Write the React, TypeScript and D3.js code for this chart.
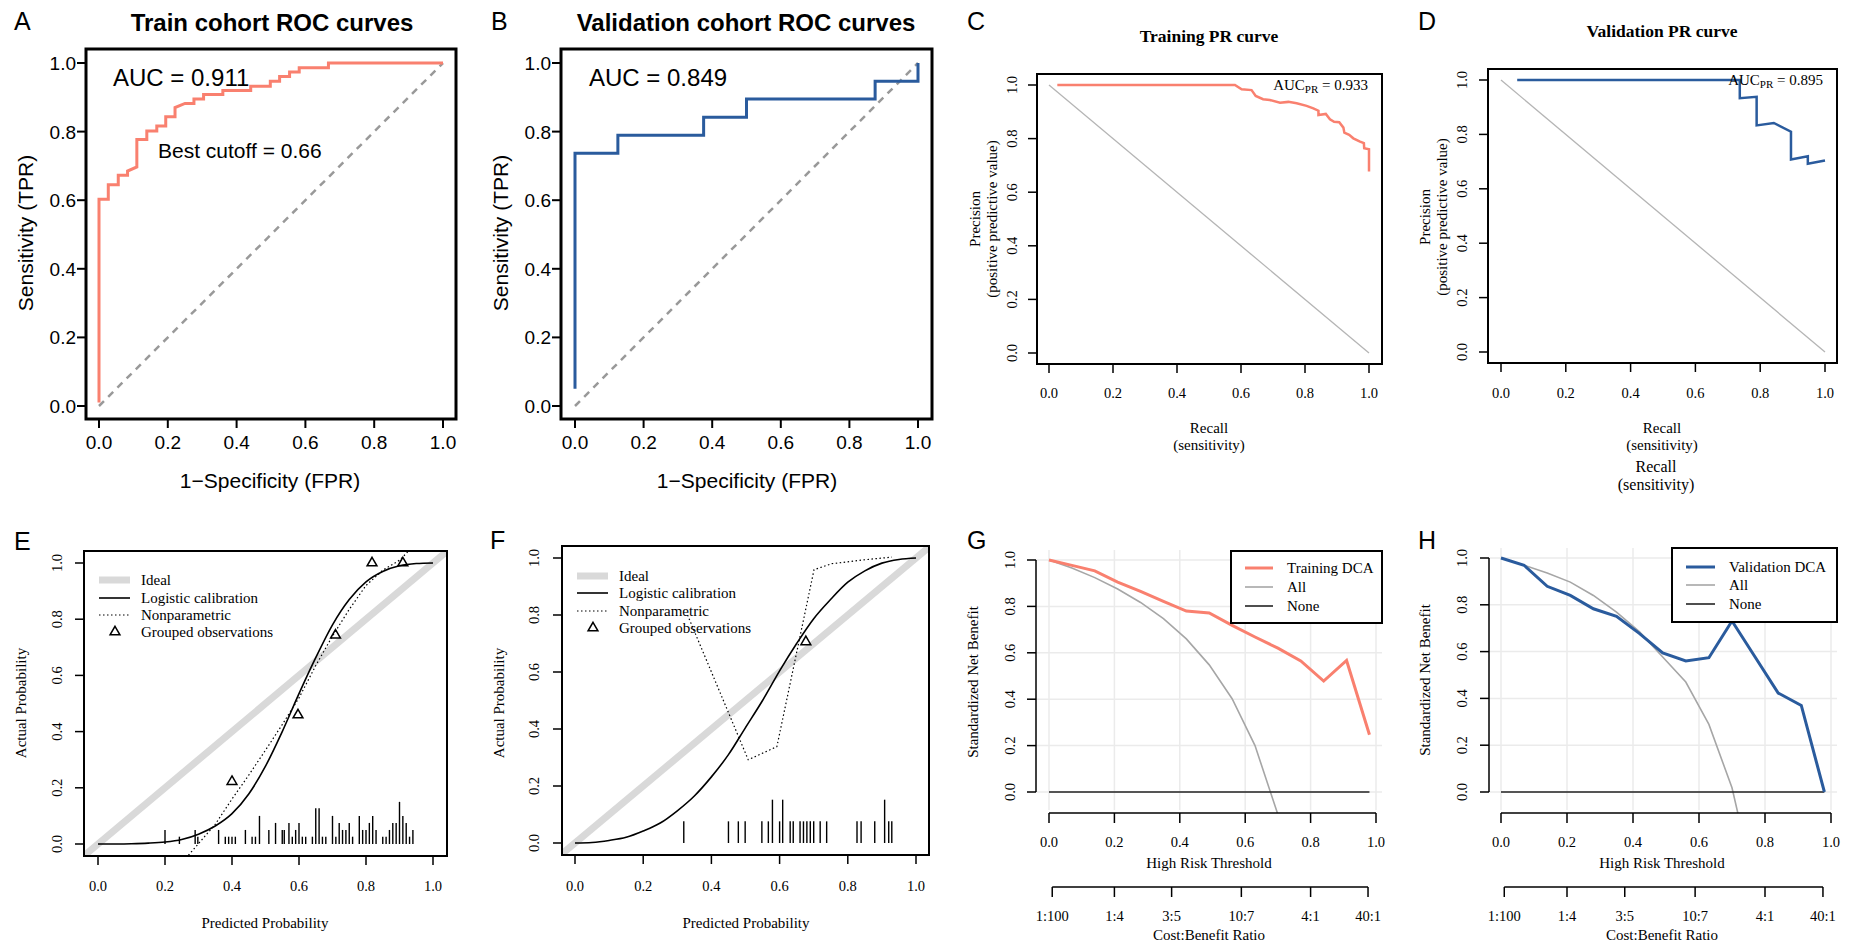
import React from 'react';
import * as d3 from 'd3';

const SANS = '"Liberation Sans", Arial, Helvetica, sans-serif';
const SERIF = '"Liberation Serif", "Times New Roman", Times, serif';
const SALMON = '#f9806f';
const BLUE = '#2a5b9d';

const ticks01 = [0, 0.2, 0.4, 0.6, 0.8, 1.0];
const fmt = d3.format('.1f');

// A: training ROC (step corners)
const trainRocFpr = [0, 0, 0.027, 0.027, 0.056, 0.056, 0.083, 0.083, 0.11, 0.11, 0.139, 0.139, 0.168, 0.168, 0.194, 0.194, 0.221, 0.221, 0.25, 0.276, 0.276, 0.304, 0.304, 0.36, 0.36, 0.441, 0.441, 0.498, 0.498, 0.525, 0.525, 0.554, 0.554, 0.582, 0.582, 0.667, 0.667, 1.0];
const trainRocTpr = [0.01, 0.603, 0.603, 0.645, 0.645, 0.673, 0.673, 0.685, 0.697, 0.777, 0.777, 0.802, 0.802, 0.816, 0.816, 0.843, 0.843, 0.87, 0.882, 0.882, 0.895, 0.895, 0.908, 0.908, 0.92, 0.92, 0.932, 0.932, 0.947, 0.947, 0.961, 0.961, 0.974, 0.974, 0.986, 0.986, 1.0, 1.0];

// B: validation ROC
const validRocFpr = [0, 0, 0.125, 0.125, 0.375, 0.375, 0.5, 0.5, 0.875, 0.875, 1.0, 1.0];
const validRocTpr = [0.05, 0.737, 0.737, 0.789, 0.789, 0.842, 0.842, 0.895, 0.895, 0.947, 0.947, 1.0];

// C: training PR
const trainPrRecall = [0.026, 0.581, 0.602, 0.633, 0.646, 0.669, 0.69, 0.722, 0.748, 0.774, 0.805, 0.826, 0.842, 0.842, 0.865, 0.878, 0.891, 0.907, 0.92, 0.923, 0.938, 0.951, 0.972, 0.984, 0.985, 1.0, 1.0];
const trainPrPrecision = [1.0, 1.0, 0.984, 0.981, 0.959, 0.947, 0.944, 0.934, 0.937, 0.932, 0.922, 0.913, 0.904, 0.888, 0.892, 0.872, 0.863, 0.861, 0.841, 0.822, 0.814, 0.801, 0.789, 0.783, 0.764, 0.76, 0.677];

// D: validation PR
const validPrRecall = [0.05, 0.737, 0.737, 0.789, 0.789, 0.842, 0.895, 0.895, 0.947, 0.947, 1.0];
const validPrPrecision = [1.0, 1.0, 0.933, 0.938, 0.833, 0.842, 0.81, 0.708, 0.72, 0.692, 0.704];

// E/F: calibration
const calGrid = [0, 0.05, 0.1, 0.15, 0.2, 0.25, 0.3, 0.35, 0.4, 0.45, 0.5, 0.55, 0.6, 0.65, 0.7, 0.75, 0.8, 0.85, 0.9, 0.95, 1.0];
const trainLogistic = [0, 0.0002, 0.001, 0.003, 0.007, 0.016, 0.035, 0.064, 0.108, 0.178, 0.277, 0.4, 0.535, 0.663, 0.78, 0.87, 0.933, 0.97, 0.99, 0.998, 1.0];
const trainNpX = [0.27, 0.35, 0.4, 0.45, 0.5, 0.55, 0.6, 0.65, 0.7, 0.75, 0.8, 0.85, 0.9, 0.925];
const trainNpY = [-0.04, 0.07, 0.16, 0.245, 0.334, 0.425, 0.52, 0.635, 0.74, 0.835, 0.92, 0.974, 1.01, 1.04];
const trainGroupX = [0.4, 0.597, 0.709, 0.818, 0.91];
const trainGroupY = [0.222, 0.459, 0.743, 1.0, 1.0];
const trainRugX = [0.2, 0.243, 0.29, 0.298, 0.36, 0.38, 0.39, 0.4, 0.41, 0.44, 0.46, 0.47, 0.482, 0.51, 0.53, 0.55, 0.556, 0.57, 0.58, 0.59, 0.6, 0.61, 0.62, 0.64, 0.65, 0.66, 0.67, 0.68, 0.7, 0.71, 0.72, 0.73, 0.74, 0.75, 0.76, 0.78, 0.79, 0.8, 0.81, 0.82, 0.83, 0.85, 0.86, 0.87, 0.88, 0.89, 0.9, 0.91, 0.92, 0.93, 0.94];
const trainRugH = [0.05, 0.026, 0.05, 0.026, 0.05, 0.026, 0.026, 0.026, 0.026, 0.05, 0.026, 0.026, 0.1, 0.05, 0.075, 0.05, 0.05, 0.075, 0.026, 0.05, 0.075, 0.026, 0.026, 0.026, 0.127, 0.127, 0.026, 0.026, 0.1, 0.026, 0.075, 0.05, 0.05, 0.075, 0.026, 0.1, 0.05, 0.05, 0.075, 0.1, 0.05, 0.026, 0.026, 0.05, 0.075, 0.075, 0.15, 0.1, 0.075, 0.026, 0.05];

const validLogistic = [0, 0.002, 0.009, 0.02, 0.042, 0.07, 0.113, 0.165, 0.232, 0.31, 0.405, 0.5, 0.604, 0.7, 0.787, 0.855, 0.915, 0.955, 0.982, 0.995, 1.0];
const validNpX = [0.33, 0.508, 0.592, 0.701, 0.753, 0.851, 0.929];
const validNpY = [0.8, 0.292, 0.338, 0.959, 0.98, 0.994, 1.003];
const validGroupX = [0.677];
const validGroupY = [0.706];
const validRugX = [0.319, 0.45, 0.479, 0.499, 0.548, 0.567, 0.579, 0.6, 0.609, 0.631, 0.64, 0.66, 0.67, 0.68, 0.69, 0.7, 0.719, 0.738, 0.827, 0.839, 0.879, 0.908, 0.92, 0.929];
const validRugH = [0.076, 0.076, 0.076, 0.076, 0.076, 0.076, 0.152, 0.076, 0.152, 0.076, 0.076, 0.076, 0.076, 0.076, 0.076, 0.076, 0.076, 0.076, 0.076, 0.076, 0.076, 0.152, 0.076, 0.076];

// G/H: decision curves
const dcaThresholds = [0, 0.07, 0.14, 0.21, 0.28, 0.35, 0.42, 0.49, 0.56, 0.63, 0.7, 0.77, 0.84, 0.91, 0.98];
const trainDca = [1.0, 0.977, 0.953, 0.905, 0.865, 0.822, 0.78, 0.772, 0.718, 0.668, 0.62, 0.565, 0.478, 0.567, 0.247];
const trainAll = [1.0, 0.965, 0.924, 0.875, 0.817, 0.747, 0.66, 0.548, 0.402, 0.2, -0.097];
const validDca = [1.0, 0.969, 0.879, 0.84, 0.783, 0.751, 0.677, 0.594, 0.56, 0.574, 0.731, 0.577, 0.423, 0.37, 0.0];
const validAll = [1.0, 0.969, 0.936, 0.897, 0.84, 0.769, 0.684, 0.577, 0.47, 0.289, 0.018, -0.41];
const ratioLabels = ['1:100', '1:4', '3:5', '10:7', '4:1', '40:1'];

const pts = (xs: number[], ys: number[]): [number, number][] => xs.map((v, i) => [v, ys[i]]);

function RocPanel({ cfg, fpr, tpr, color, auc, note }: any) {
  const x = d3.scaleLinear().domain([0, 1]).range(cfg.xr);
  const y = d3.scaleLinear().domain([0, 1]).range(cfg.yr);
  const line = d3.line<[number, number]>().x(d => x(d[0])).y(d => y(d[1]));
  const b = cfg.box;
  return (
    <g fontFamily={SANS} fill="#000">
      <text x={cfg.letterX} y={30} fontSize={25}>{cfg.letter}</text>
      <text x={cfg.titleX} y={31} fontSize={24} fontWeight="bold" textAnchor="middle">{cfg.title}</text>
      <line x1={x(0)} y1={y(0)} x2={x(1)} y2={y(1)} stroke="#999" strokeWidth={2.5} strokeDasharray="7,6" />
      <path d={line(pts(fpr, tpr)) || ''} fill="none" stroke={color} strokeWidth={3} />
      <rect x={b.l} y={b.t} width={b.r - b.l} height={b.b - b.t} fill="none" stroke="#000" strokeWidth={3} />
      {ticks01.map(t => (
        <g key={'x' + t}>
          <line x1={x(t)} x2={x(t)} y1={b.b} y2={b.b + 9} stroke="#000" strokeWidth={2} />
          <text x={x(t)} y={b.b + 30} fontSize={19} textAnchor="middle">{fmt(t)}</text>
          <line x1={b.l} x2={b.l - 9} y1={y(t)} y2={y(t)} stroke="#000" strokeWidth={2} />
          <text x={b.l - 10} y={y(t) + 7} fontSize={19} textAnchor="end">{fmt(t)}</text>
        </g>
      ))}
      <text x={cfg.aucX} y={86} fontSize={24}>{auc}</text>
      {note && <text x={note.x} y={note.y} fontSize={21}>{note.text}</text>}
      <text x={cfg.xlabelX} y={488} fontSize={21} textAnchor="middle">1−Specificity (FPR)</text>
      <text transform={`translate(${cfg.ylabelX},233) rotate(-90)`} fontSize={21} textAnchor="middle">Sensitivity (TPR)</text>
    </g>
  );
}

function PrPanel({ cfg, recall, precision, color, auc, extraLabel }: any) {
  const x = d3.scaleLinear().domain([0, 1]).range(cfg.xr);
  const y = d3.scaleLinear().domain([0, 1]).range(cfg.yr);
  const line = d3.line<[number, number]>().x(d => x(d[0])).y(d => y(d[1]));
  const b = cfg.box;
  return (
    <g fontFamily={SERIF} fill="#000">
      <text x={cfg.letterX} y={30} fontSize={25} fontFamily={SANS}>{cfg.letter}</text>
      <text x={cfg.titleX} y={cfg.titleY} fontSize={17.5} fontWeight="bold" textAnchor="middle">{cfg.title}</text>
      <line x1={x(0)} y1={y(1)} x2={x(1)} y2={y(0)} stroke="#b5b5b5" strokeWidth={1.3} />
      <path d={line(pts(recall, precision)) || ''} fill="none" stroke={color} strokeWidth={2.5} />
      <rect x={b.l} y={b.t} width={b.r - b.l} height={b.b - b.t} fill="none" stroke="#000" strokeWidth={2} />
      {ticks01.map(t => (
        <g key={'t' + t}>
          <line x1={x(t)} x2={x(t)} y1={b.b} y2={b.b + 9} stroke="#000" strokeWidth={1.5} />
          <text x={x(t)} y={398} fontSize={14.5} textAnchor="middle">{fmt(t)}</text>
          <line x1={b.l} x2={b.l - 9} y1={y(t)} y2={y(t)} stroke="#000" strokeWidth={1.5} />
          <text transform={`translate(${cfg.ytickX},${y(t)}) rotate(-90)`} fontSize={14.5} textAnchor="middle">{fmt(t)}</text>
        </g>
      ))}
      <text x={cfg.aucRight} y={cfg.aucY} fontSize={15} textAnchor="end">
        <tspan>AUC</tspan>
        <tspan fontSize={11} dy={3}>PR</tspan>
        <tspan dy={-3}>{' = ' + auc}</tspan>
      </text>
      <text transform={`translate(${cfg.ylabX[0]},${cfg.ylabY}) rotate(-90)`} fontSize={15} textAnchor="middle">Precision</text>
      <text transform={`translate(${cfg.ylabX[1]},${cfg.ylabY}) rotate(-90)`} fontSize={15} textAnchor="middle">(positive predictive value)</text>
      <text x={cfg.xlabX} y={433} fontSize={15} textAnchor="middle">Recall</text>
      <text x={cfg.xlabX} y={450} fontSize={15} textAnchor="middle">(sensitivity)</text>
      {extraLabel && (
        <g>
          <text x={extraLabel.x} y={472} fontSize={16} textAnchor="middle">Recall</text>
          <text x={extraLabel.x} y={490} fontSize={16} textAnchor="middle">(sensitivity)</text>
        </g>
      )}
    </g>
  );
}

function CalPanel({ cfg, logistic, npX, npY, grpX, grpY, rugX, rugH, clipId }: any) {
  const x = d3.scaleLinear().domain([0, 1]).range(cfg.xr);
  const y = d3.scaleLinear().domain([0, 1]).range(cfg.yr);
  const smooth = d3.line<[number, number]>().x(d => x(d[0])).y(d => y(d[1])).curve(d3.curveMonotoneX);
  const straight = d3.line<[number, number]>().x(d => x(d[0])).y(d => y(d[1]));
  const tri = d3.symbol().type(d3.symbolTriangle).size(42)();
  const b = cfg.box;
  const legendLabels = ['Ideal', 'Logistic calibration', 'Nonparametric', 'Grouped observations'];
  return (
    <g fontFamily={SERIF} fill="#000">
      <defs>
        <clipPath id={clipId}>
          <rect x={b.l} y={b.t} width={b.r - b.l} height={b.b - b.t} />
        </clipPath>
      </defs>
      <text x={cfg.letterX} y={cfg.letterY} fontSize={25} fontFamily={SANS}>{cfg.letter}</text>
      <g clipPath={`url(#${clipId})`}>
        <line x1={x(-0.1)} y1={y(-0.1)} x2={x(1.1)} y2={y(1.1)} stroke="#d9d9d9" strokeWidth={7} />
        <path d={smooth(pts(calGrid, logistic)) || ''} fill="none" stroke="#000" strokeWidth={1.6} />
        <path d={straight(pts(npX, npY)) || ''} fill="none" stroke="#000" strokeWidth={1.2} strokeDasharray="1.5,2.5" />
      </g>
      {grpX.map((gx: number, i: number) => (
        <path key={'g' + i} d={tri || ''} transform={`translate(${x(gx)},${y(grpY[i])})`} fill="none" stroke="#000" strokeWidth={1.5} />
      ))}
      {rugX.map((rx: number, i: number) => (
        <line key={'r' + i} x1={x(rx)} x2={x(rx)} y1={y(0)} y2={y(rugH[i])} stroke="#000" strokeWidth={1.4} />
      ))}
      <rect x={b.l} y={b.t} width={b.r - b.l} height={b.b - b.t} fill="none" stroke="#000" strokeWidth={2} />
      {ticks01.map(t => (
        <g key={'t' + t}>
          <line x1={x(t)} x2={x(t)} y1={b.b} y2={b.b + 9} stroke="#000" strokeWidth={1.5} />
          <text x={x(t)} y={cfg.tickLabY} fontSize={14.5} textAnchor="middle">{fmt(t)}</text>
          <line x1={b.l} x2={b.l - 9} y1={y(t)} y2={y(t)} stroke="#000" strokeWidth={1.5} />
          <text transform={`translate(${cfg.ytickX},${y(t)}) rotate(-90)`} fontSize={14.5} textAnchor="middle">{fmt(t)}</text>
        </g>
      ))}
      <text x={cfg.xlabX} y={cfg.xlabY} fontSize={15} textAnchor="middle">Predicted Probability</text>
      <text transform={`translate(${cfg.ylabX},${cfg.ylabY}) rotate(-90)`} fontSize={15} textAnchor="middle">Actual Probability</text>
      {legendLabels.map((lab, i) => (
        <g key={lab}>
          {i === 0 && <line x1={cfg.legX} x2={cfg.legX + 31} y1={cfg.legY[i]} y2={cfg.legY[i]} stroke="#d9d9d9" strokeWidth={7} />}
          {i === 1 && <line x1={cfg.legX} x2={cfg.legX + 31} y1={cfg.legY[i]} y2={cfg.legY[i]} stroke="#000" strokeWidth={1.6} />}
          {i === 2 && <line x1={cfg.legX} x2={cfg.legX + 31} y1={cfg.legY[i]} y2={cfg.legY[i]} stroke="#000" strokeWidth={1.2} strokeDasharray="1.5,2.5" />}
          {i === 3 && <path d={tri || ''} transform={`translate(${cfg.legX + 16},${cfg.legY[i]})`} fill="none" stroke="#000" strokeWidth={1.5} />}
          <text x={cfg.legTextX} y={cfg.legY[i] + 5} fontSize={15}>{lab}</text>
        </g>
      ))}
    </g>
  );
}

function DcaPanel({ cfg, model, all, label, color, clipId }: any) {
  const x = d3.scaleLinear().domain([0, 1]).range(cfg.xr);
  const y = d3.scaleLinear().domain([0, 1]).range(cfg.yr);
  const line = d3.line<[number, number]>().x(d => x(d[0])).y(d => y(d[1]));
  const p = cfg.plot;
  const xAxisY = 813;
  const ratioY = 887;
  const ratios = ratioLabels.map(l => {
    const [a, c] = l.split(':').map(Number);
    return { l, p: a / (a + c) };
  });
  const tMin = dcaThresholds[0];
  const tMax = dcaThresholds[dcaThresholds.length - 1];
  const lg = cfg.legend;
  const legendRows = [
    { text: label, stroke: color, w: 3 },
    { text: 'All', stroke: '#a6a6a6', w: 1.6 },
    { text: 'None', stroke: '#222', w: 1.6 },
  ];
  return (
    <g fontFamily={SERIF} fill="#000">
      <defs>
        <clipPath id={clipId}>
          <rect x={p.l} y={p.t} width={p.r - p.l} height={p.b - p.t} />
        </clipPath>
      </defs>
      <text x={cfg.letterX} y={549} fontSize={25} fontFamily={SANS}>{cfg.letter}</text>
      {ticks01.map(t => (
        <g key={'g' + t}>
          <line x1={x(t)} x2={x(t)} y1={p.t} y2={p.b - 3} stroke="#ebebeb" strokeWidth={1.5} />
          <line x1={cfg.axisX} x2={p.r} y1={y(t)} y2={y(t)} stroke="#ebebeb" strokeWidth={1.5} />
        </g>
      ))}
      <g clipPath={`url(#${clipId})`}>
        <path d={line(pts(dcaThresholds.slice(0, all.length), all)) || ''} fill="none" stroke="#a6a6a6" strokeWidth={1.6} />
        <line x1={x(tMin)} x2={x(tMax)} y1={y(0)} y2={y(0)} stroke="#222" strokeWidth={1.6} />
        <path d={line(pts(dcaThresholds, model)) || ''} fill="none" stroke={color} strokeWidth={3} />
      </g>
      <line x1={cfg.axisX} x2={cfg.axisX} y1={y(0)} y2={y(1)} stroke="#000" strokeWidth={1.5} />
      {ticks01.map(t => (
        <g key={'y' + t}>
          <line x1={cfg.axisX} x2={cfg.axisX - 9} y1={y(t)} y2={y(t)} stroke="#000" strokeWidth={1.5} />
          <text transform={`translate(${cfg.ytickX},${y(t)}) rotate(-90)`} fontSize={14.5} textAnchor="middle">{fmt(t)}</text>
        </g>
      ))}
      <line x1={x(0)} x2={x(1)} y1={xAxisY} y2={xAxisY} stroke="#000" strokeWidth={1.5} />
      {ticks01.map(t => (
        <g key={'x' + t}>
          <line x1={x(t)} x2={x(t)} y1={xAxisY} y2={xAxisY + 10} stroke="#000" strokeWidth={1.5} />
          <text x={x(t)} y={847} fontSize={14.5} textAnchor="middle">{fmt(t)}</text>
        </g>
      ))}
      <text x={cfg.xlabX} y={868} fontSize={15} textAnchor="middle">High Risk Threshold</text>
      <line x1={x(ratios[0].p)} x2={x(ratios[ratios.length - 1].p)} y1={ratioY} y2={ratioY} stroke="#000" strokeWidth={1.5} />
      {ratios.map(r => (
        <g key={r.l}>
          <line x1={x(r.p)} x2={x(r.p)} y1={ratioY} y2={ratioY + 10} stroke="#000" strokeWidth={1.5} />
          <text x={x(r.p)} y={921} fontSize={14.5} textAnchor="middle">{r.l}</text>
        </g>
      ))}
      <text x={cfg.xlabX} y={940} fontSize={15} textAnchor="middle">Cost:Benefit Ratio</text>
      <text transform={`translate(${cfg.ylabX},${cfg.ylabY}) rotate(-90)`} fontSize={15} textAnchor="middle">Standardized Net Benefit</text>
      <rect x={lg.l} y={lg.t} width={lg.r - lg.l} height={lg.b - lg.t} fill="#fff" stroke="#000" strokeWidth={2} />
      {legendRows.map((r, i) => (
        <g key={r.text}>
          <line x1={lg.lineX[0]} x2={lg.lineX[1]} y1={lg.rows[i]} y2={lg.rows[i]} stroke={r.stroke} strokeWidth={r.w} />
          <text x={lg.textX} y={lg.rows[i] + 5} fontSize={15}>{r.text}</text>
        </g>
      ))}
    </g>
  );
}

const cfgA = { letter: 'A', letterX: 14, title: 'Train cohort ROC curves', titleX: 272, box: { l: 86, r: 456, t: 49, b: 419 }, xr: [99, 443], yr: [406, 63], aucX: 113, xlabelX: 270, ylabelX: 33 };
const cfgB = { letter: 'B', letterX: 491, title: 'Validation cohort ROC curves', titleX: 746, box: { l: 561, r: 932, t: 49, b: 419 }, xr: [575, 918], yr: [406, 63], aucX: 589, xlabelX: 747, ylabelX: 508 };
const cfgC = { letter: 'C', letterX: 967, title: 'Training PR curve', titleX: 1209, titleY: 42, box: { l: 1037, r: 1382, t: 74, b: 364 }, xr: [1049, 1369], yr: [353, 85], ytickX: 1017, ylabX: [980, 997], ylabY: 219, xlabX: 1209, aucRight: 1368, aucY: 90 };
const cfgD = { letter: 'D', letterX: 1418, title: 'Validation PR curve', titleX: 1662, titleY: 37, box: { l: 1488, r: 1837, t: 69, b: 363 }, xr: [1501, 1825], yr: [352, 80], ytickX: 1467, ylabX: [1430, 1447], ylabY: 217, xlabX: 1662, aucRight: 1823, aucY: 85 };
const cfgE = { letter: 'E', letterX: 14, letterY: 550, box: { l: 84, r: 447, t: 551, b: 856 }, xr: [98, 433], yr: [844, 563], ytickX: 62, ylabX: 26, ylabY: 703, xlabX: 265, xlabY: 928, tickLabY: 891, legX: 99, legTextX: 141, legY: [580, 598, 615, 632] };
const cfgF = { letter: 'F', letterX: 490, letterY: 549, box: { l: 562, r: 929, t: 546, b: 855 }, xr: [575, 916], yr: [843, 558], ytickX: 539, ylabX: 504, ylabY: 703, xlabX: 746, xlabY: 928, tickLabY: 891, legX: 577, legTextX: 619, legY: [576, 593, 611, 628] };
const cfgG = { letter: 'G', letterX: 967, axisX: 1036, xr: [1049, 1376], yr: [792, 560], plot: { l: 1036, r: 1382, t: 550, b: 813 }, ytickX: 1015, ylabX: 978, ylabY: 682, xlabX: 1209, legend: { l: 1231, r: 1382, t: 551, b: 623, lineX: [1245, 1273], textX: 1287, rows: [568, 587, 606] } };
const cfgH = { letter: 'H', letterX: 1418, axisX: 1489, xr: [1501, 1831], yr: [792, 558], plot: { l: 1489, r: 1837, t: 548, b: 813 }, ytickX: 1467, ylabX: 1430, ylabY: 680, xlabX: 1662, legend: { l: 1672, r: 1837, t: 548, b: 622, lineX: [1686, 1715], textX: 1729, rows: [567, 585, 604] } };

export default function App() {
  return (
    <div style={{ position: 'absolute', left: 0, top: 0 }}>
      <svg width={1858} height={946} style={{ display: 'block', background: '#fff' }}>
        <RocPanel cfg={cfgA} fpr={trainRocFpr} tpr={trainRocTpr} color={SALMON} auc="AUC = 0.911" note={{ x: 158, y: 158, text: 'Best cutoff = 0.66' }} />
        <RocPanel cfg={cfgB} fpr={validRocFpr} tpr={validRocTpr} color={BLUE} auc="AUC = 0.849" />
        <PrPanel cfg={cfgC} recall={trainPrRecall} precision={trainPrPrecision} color={SALMON} auc="0.933" />
        <PrPanel cfg={cfgD} recall={validPrRecall} precision={validPrPrecision} color={BLUE} auc="0.895" extraLabel={{ x: 1656 }} />
        <CalPanel cfg={cfgE} logistic={trainLogistic} npX={trainNpX} npY={trainNpY} grpX={trainGroupX} grpY={trainGroupY} rugX={trainRugX} rugH={trainRugH} clipId="clipE" />
        <CalPanel cfg={cfgF} logistic={validLogistic} npX={validNpX} npY={validNpY} grpX={validGroupX} grpY={validGroupY} rugX={validRugX} rugH={validRugH} clipId="clipF" />
        <DcaPanel cfg={cfgG} model={trainDca} all={trainAll} label="Training DCA" color={SALMON} clipId="clipG" />
        <DcaPanel cfg={cfgH} model={validDca} all={validAll} label="Validation DCA" color={BLUE} clipId="clipH" />
      </svg>
    </div>
  );
}
